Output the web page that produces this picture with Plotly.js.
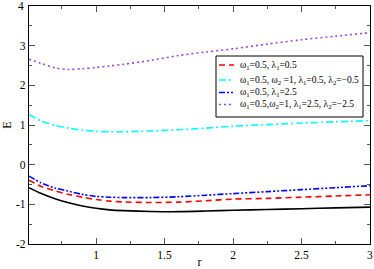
<!DOCTYPE html>
<html><head><meta charset="utf-8">
<script src="https://cdn.plot.ly/plotly-3.0.1.min.js"></script>
<style>html,body{margin:0;padding:0;background:#fff}#c{width:374px;height:269px}</style>
</head><body><div id="c"></div>
<script>
var r = [0.51, 0.6, 0.7, 0.8, 0.9, 1.0, 1.1, 1.2, 1.4, 1.6, 1.8, 2.0, 2.25, 2.5, 2.75, 3.0];
var E_black  = [-0.58,-0.73,-0.86,-0.96,-1.04,-1.10,-1.14,-1.16,-1.18,-1.185,-1.17,-1.15,-1.13,-1.11,-1.09,-1.07];
var E_red    = [-0.39,-0.55,-0.66,-0.75,-0.82,-0.88,-0.92,-0.94,-0.955,-0.945,-0.91,-0.87,-0.85,-0.82,-0.79,-0.76];
var E_cyan   = [1.26,1.10,0.99,0.92,0.87,0.84,0.83,0.83,0.85,0.88,0.92,0.97,1.01,1.05,1.08,1.11];
var E_blue   = [-0.29,-0.46,-0.59,-0.67,-0.75,-0.80,-0.82,-0.83,-0.83,-0.81,-0.77,-0.73,-0.68,-0.63,-0.58,-0.53];
var E_purple = [2.66,2.55,2.44,2.40,2.42,2.45,2.49,2.53,2.63,2.75,2.84,2.92,3.04,3.15,3.24,3.33];
var names = [
  "ω<sub>1</sub>=0.5, λ<sub>1</sub>=0.5",
  "ω<sub>1</sub>=0.5, ω<sub>2</sub> =1, λ<sub>1</sub>=0.5, λ<sub>2</sub>=\u22120.5",
  "ω<sub>1</sub>=0.5, λ<sub>1</sub>=2.5",
  "ω<sub>1</sub>=0.5,ω<sub>2</sub>=1, λ<sub>1</sub>=2.5, λ<sub>2</sub>=\u22122.5"
];
var xTicks = [1, 1.5, 2, 2.5, 3];
var xTickText = ["1", "1.5", "2", "2.5", "3"];
var yTicks = [-2, -1, 0, 1, 2, 3, 4];
var yTickText = ["-2", "-1", "0", "1", "2", "3", "4"];

var styles = [
  {color: '#ff0000', dash: '6px,4px'},
  {color: '#00ffff', dash: '7px,3px,2px,3px'},
  {color: '#0000ff', dash: '6px,2px,2px,2px,2px,2px'},
  {color: '#9b45e8', dash: '2px,3px'}
];
var series = [E_red, E_cyan, E_blue, E_purple];
var LW = 1.6;
var traces = [{x: r, y: E_black, mode: 'lines', line: {color: '#000000', width: LW, shape: 'spline', smoothing: 0.8}, showlegend: false}];
series.forEach(function (s, i) {
  traces.push({x: r, y: s, mode: 'lines', name: names[i], showlegend: false,
    line: {color: styles[i].color, width: LW, dash: styles[i].dash, shape: 'spline', smoothing: 0.8}});
});

var W = 374, H = 269, mL = 29, mR = 4, mT = 6, mB = 25;
var pw = W - mL - mR, ph = H - mT - mB;
function px2x(p) { return (p - mL) / pw; }
function py2y(p) { return 1 - (p - mT) / ph; }

var serif = "'Liberation Serif', 'Times New Roman', serif";
var shapes = [{type: 'rect', xref: 'paper', yref: 'paper', x0: px2x(216), x1: px2x(363), y0: py2y(117), y1: py2y(56),
  line: {color: '#000', width: 1}, fillcolor: '#fff', layer: 'above'}];
var annotations = [];
var rowY = [65, 80, 92.5, 104.5];
names.forEach(function (n, i) {
  shapes.push({type: 'line', xref: 'paper', yref: 'paper', x0: px2x(219), x1: px2x(234), y0: py2y(rowY[i]), y1: py2y(rowY[i]),
    line: {color: styles[i].color, width: LW, dash: styles[i].dash}, layer: 'above'});
  annotations.push({xref: 'paper', yref: 'paper', x: px2x(238), y: py2y(rowY[i]), xanchor: 'left', yanchor: 'middle',
    text: n, showarrow: false, font: {family: serif, size: 9.5, color: '#000'}});
});
// the top y tick label is suppressed by Plotly at the very edge of the div; place it at its axis value
annotations.push({xref: 'paper', yref: 'y', x: 0, y: yTicks[yTicks.length - 1], xanchor: 'right', yanchor: 'middle',
  xshift: -3, text: yTickText[yTickText.length - 1], showarrow: false, font: {family: serif, size: 11.5, color: '#000'}});

var layout = {
  width: W, height: H,
  margin: {l: mL, r: mR, t: mT, b: mB, pad: 0},
  paper_bgcolor: '#fff', plot_bgcolor: '#fff',
  font: {family: serif, size: 12, color: '#000'},
  showlegend: false,
  shapes: shapes, annotations: annotations,
  xaxis: {range: [0.51, 3.0005], tickvals: xTicks, ticktext: xTickText, ticks: 'inside', ticklen: 6, tickcolor: '#555',
          showline: true, linecolor: '#000', linewidth: 1.2, mirror: 'allticks', showgrid: false, zeroline: false, automargin: false,
          ticklabeloverflow: 'allow',
          minor: {dtick: 0.25, tick0: 0.5, ticks: 'inside', ticklen: 3, tickcolor: '#555', showgrid: false},
          title: {text: 'r', font: {family: serif, size: 12}, standoff: 0}, tickfont: {family: serif, size: 11.5}},
  yaxis: {range: [-2.0005, 4.0005], tickvals: yTicks.slice(0, -1), ticktext: yTickText.slice(0, -1), ticks: 'inside', ticklen: 6, tickcolor: '#555',
          showline: true, linecolor: '#000', linewidth: 1.2, mirror: 'allticks', showgrid: false, zeroline: false, automargin: false,
          ticklabeloverflow: 'allow',
          minor: {dtick: 0.5, ticks: 'inside', ticklen: 3, tickcolor: '#555', showgrid: false},
          title: {text: 'E', font: {family: serif, size: 12}, standoff: 4}, tickfont: {family: serif, size: 11.5}}
};
Plotly.newPlot('c', traces, layout, {displayModeBar: false, staticPlot: true});
</script></body></html>
